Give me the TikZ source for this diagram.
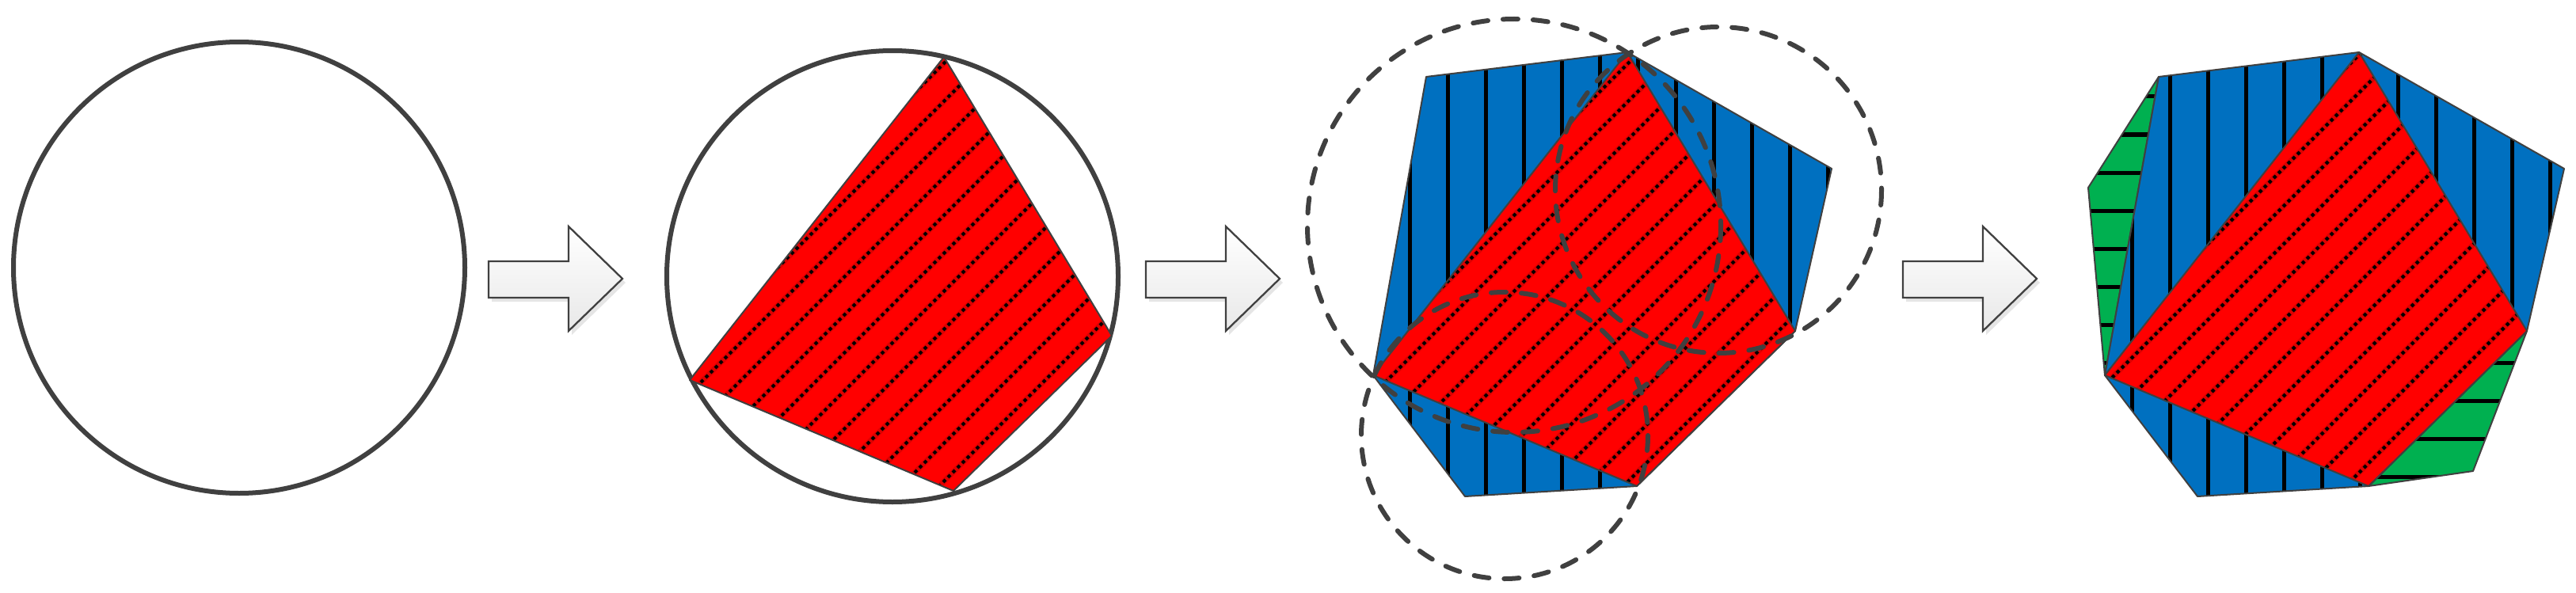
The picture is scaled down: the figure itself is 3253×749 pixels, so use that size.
\documentclass[tikz,border=0pt]{standalone}
\usetikzlibrary{calc}
\definecolor{edge}{HTML}{404040}
\definecolor{redfill}{HTML}{FF0000}
\definecolor{reddark}{HTML}{DE0000}
\definecolor{bluefill}{HTML}{0070C0}
\definecolor{greenfill}{HTML}{00B050}
\tikzset{
  outline/.style={draw=edge, line width=2pt, line join=round},
  ring/.style={draw=edge, line width=6pt},
  dashring/.style={draw=edge, line width=6pt, dash pattern=on 19pt off 19pt, line cap=round},
  dotline/.style={black, line width=4.2pt, dash pattern=on 4.2pt off 4.285pt},
  dothalo/.style={reddark, line width=7pt},
  vhatch/.style={black, line width=5pt},
  blockarrow/.style={draw=edge, line width=2.3pt, top color=white, bottom color=black!9, line join=miter},
  arrowshadow/.style={fill=black!10},
}
\newcommand{\redhatch}{%
  \foreach \k in {26,...,76}{%
    \draw[dothalo] ({24+48*\k},0) -- ({24+48*\k-760},760);
    \draw[dotline] ({24+48*\k},0) -- ({24+48*\k-760},760);
  }}
\newcommand{\bluehatch}{%
  \foreach \k in {30,...,70}{%
    \draw[vhatch] ({4+48*\k},0) -- ({4+48*\k},749);
  }}
\newcommand{\greenhatch}{%
  \foreach \k in {0,...,15}{%
    \draw[vhatch] (2500,{26+48*\k}) -- (3253,{26+48*\k});
  }}
\newcommand{\arrowshape}[1]{%
  \begin{scope}[shift={(#1,0)}]
    \fill[arrowshadow] (4,335) -- (105,335) -- (105,291) -- (173,357) -- (105,423) -- (105,381) -- (4,381) -- cycle;
    \draw[blockarrow] (0,330) -- (101,330) -- (101,286) -- (169,352) -- (101,418) -- (101,376) -- (0,376) -- cycle;
  \end{scope}}
\begin{document}
\begin{tikzpicture}[x=1pt,y=-1pt]
\useasboundingbox (0,0) rectangle (3253,749);

% ---------- panel 1
\draw[ring] (302,338) circle[radius=285];
\arrowshape{617}

% ---------- panel 2
\draw[ring] (1127,349) circle[radius=285];
\coordinate (bT) at (1192,72);
\coordinate (bR) at (1404,424);
\coordinate (bB) at (1204,620);
\coordinate (bL) at (871,480);
\begin{scope}
  \clip (bT) -- (bR) -- (bB) -- (bL) -- cycle;
  \fill[redfill] (800,0) rectangle (1500,749);
  \redhatch
\end{scope}
\draw[outline] (bT) -- (bR) -- (bB) -- (bL) -- cycle;
\arrowshape{1447}

% ---------- panel 3
\coordinate (cT) at (2055,66);
\coordinate (cR) at (2267,418);
\coordinate (cB) at (2067,614);
\coordinate (cL) at (1734,474);
\coordinate (cA) at (1801,97);
\coordinate (cC) at (2313,213);
\coordinate (cF) at (1850,627);
\begin{scope}
  \clip (cA) -- (cT) -- (cC) -- (cR) -- (cB) -- (cF) -- (cL) -- cycle;
  \fill[bluefill] (1600,0) rectangle (2400,749);
  \bluehatch
\end{scope}
\draw[outline] (cA) -- (cT) -- (cC) -- (cR) -- (cB) -- (cF) -- (cL) -- cycle;
\begin{scope}
  \clip (cT) -- (cR) -- (cB) -- (cL) -- cycle;
  \fill[redfill] (1600,0) rectangle (2400,749);
  \redhatch
\end{scope}
\draw[outline] (cT) -- (cR) -- (cB) -- (cL) -- cycle;
\draw[dashring] (1912,285) circle[radius=261];
\draw[dashring] (2170,240) circle[radius=206];
\draw[dashring] (1900,550) circle[radius=181];
\arrowshape{2403}

% ---------- panel 4
\coordinate (dT) at (2979,66);
\coordinate (dR) at (3191,418);
\coordinate (dB) at (2991,614);
\coordinate (dL) at (2658,474);
\coordinate (dA) at (2726,97);
\coordinate (dC) at (3238,213);
\coordinate (dF) at (2775,627);
\coordinate (dP) at (2637,237);
\coordinate (dQ) at (3123,595);
\begin{scope}
  \clip (dA) -- (dP) -- (dL) -- cycle;
  \fill[greenfill] (2550,0) rectangle (3253,749);
  \greenhatch
\end{scope}
\draw[outline] (dA) -- (dP) -- (dL) -- cycle;
\begin{scope}
  \clip (dR) -- (dQ) -- (dB) -- cycle;
  \fill[greenfill] (2550,0) rectangle (3253,749);
  \greenhatch
\end{scope}
\draw[outline] (dR) -- (dQ) -- (dB) -- cycle;
\begin{scope}
  \clip (dA) -- (dT) -- (dC) -- (dR) -- (dB) -- (dF) -- (dL) -- cycle;
  \fill[bluefill] (2550,0) rectangle (3253,749);
  \bluehatch
\end{scope}
\draw[outline] (dA) -- (dT) -- (dC) -- (dR) -- (dB) -- (dF) -- (dL) -- cycle;
\begin{scope}
  \clip (dT) -- (dR) -- (dB) -- (dL) -- cycle;
  \fill[redfill] (2550,0) rectangle (3253,749);
  \redhatch
\end{scope}
\draw[outline] (dT) -- (dR) -- (dB) -- (dL) -- cycle;
\end{tikzpicture}
\end{document}
